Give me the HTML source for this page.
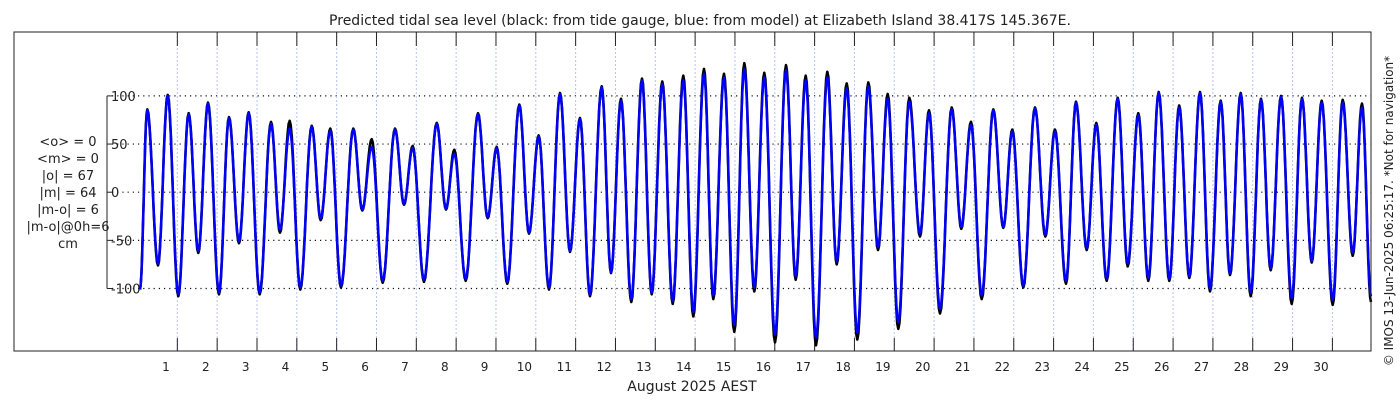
<!DOCTYPE html>
<html><head><meta charset="utf-8"><style>
html,body{margin:0;padding:0;background:#fff;}
svg{display:block;font-family:"DejaVu Sans","Liberation Sans",sans-serif;}
</style></head><body>
<svg id="chart" width="1400" height="400" viewBox="0 0 1400 400" xmlns="http://www.w3.org/2000/svg">
<rect x="0" y="0" width="1400" height="400" fill="#fff"/>
<text x="700" y="25" text-anchor="middle" font-size="14" fill="#222">Predicted tidal sea level (black: from tide gauge, blue: from model) at Elizabeth Island 38.417S 145.367E.</text>
<g id="grid"></g>
<g id="ticks"></g>
<g id="series"></g>
<rect x="14" y="32" width="1357" height="319" fill="none" stroke="#222" stroke-width="1"/>
<g font-size="13" fill="#222" text-anchor="middle">
<text x="68" y="146">&lt;o&gt; = 0</text>
<text x="68" y="163">&lt;m&gt; = 0</text>
<text x="68" y="180">|o| = 67</text>
<text x="68" y="197">|m| = 64</text>
<text x="68" y="214">|m-o| = 6</text>
<text x="68" y="231">|m-o|@0h=6</text>
<text x="68" y="248">cm</text>
</g>
<text x="692" y="391" text-anchor="middle" font-size="14" fill="#222">August 2025 AEST</text>
<text transform="translate(1393,211) rotate(-90)" text-anchor="middle" font-size="12" fill="#222">© IMOS 13-Jun-2025 06:25:17. *Not for navigation*</text>
</svg>
<script>
// Extremum times (days) and levels (cm)
const extTimes = [0.063,0.246,0.515,0.758,1.024,1.285,1.526,1.770,2.046,2.297,2.548,2.792,3.068,3.352,3.578,3.821,4.087,4.374,4.600,4.841,5.109,5.418,5.644,5.880,6.156,6.465,6.691,6.909,7.193,7.512,7.745,7.954,8.240,8.549,8.792,9.018,9.284,9.586,9.829,10.073,10.331,10.608,10.859,11.110,11.361,11.654,11.888,12.139,12.398,12.666,12.910,13.176,13.437,13.703,13.954,14.223,14.456,14.725,14.983,15.235,15.486,15.737,16.005,16.281,16.525,16.776,17.035,17.319,17.555,17.806,18.072,18.348,18.592,18.835,19.101,19.377,19.646,19.872,20.148,20.442,20.683,20.926,21.195,21.486,21.737,21.963,22.239,22.533,22.792,23.035,23.311,23.562,23.831,24.072,24.333,24.610,24.861,25.127,25.378,25.639,25.905,26.154,26.407,26.676,26.927,27.196,27.429,27.698,27.949,28.208,28.451,28.710,28.978,29.237,29.481,29.732,30.008,30.259,30.510,30.743,30.969];
const modelLevels = [-101,85,-74,100,-106,81,-61,92,-104,77,-51,82,-104,71,-39,66,-99,68,-27,64,-97,65,-18,47,-92,65,-12,46,-91,71,-17,40,-90,81,-26,46,-93,90,-42,58,-99,102,-61,76,-106,109,-83,95,-111,116,-104,112,-113,116,-124,123,-107,119,-138,128,-99,119,-148,127,-87,116,-151,119,-72,108,-146,110,-57,97,-135,94,-43,82,-121,86,-36,70,-107,85,-36,63,-97,87,-44,63,-92,93,-58,70,-90,97,-74,80,-89,103,-90,88,-87,103,-100,94,-84,102,-104,96,-79,99,-110,97,-71,93,-112,93,-63,88,-108];
const gaugeLevels = [-101,86,-76,101,-108,82,-63,93,-106,78,-53,83,-106,73,-42,74,-101,69,-29,66,-99,66,-19,55,-94,66,-13,48,-93,72,-18,44,-92,82,-27,47,-95,91,-43,59,-101,103,-62,77,-108,110,-84,97,-114,118,-106,115,-116,121,-129,128,-111,123,-145,134,-103,124,-156,132,-91,121,-159,125,-75,113,-153,114,-60,102,-142,98,-46,85,-126,88,-38,73,-111,86,-37,65,-99,88,-46,65,-95,94,-60,72,-92,98,-77,82,-92,104,-92,90,-89,104,-103,95,-86,103,-108,97,-81,100,-116,98,-73,95,-117,96,-66,92,-114];
const yTicks = [100,50,0,-50,-100];
const yTickLabels = ["100","50","0","-50","-100"];
const dayTicks = [1,2,3,4,5,6,7,8,9,10,11,12,13,14,15,16,17,18,19,20,21,22,23,24,25,26,27,28,29,30];

const NS='http://www.w3.org/2000/svg';
const xS = t => 137.5 + t*39.83;
const yS = v => 192.2 - v*0.963;
function mk(tag, attrs, parent){const e=document.createElementNS(NS,tag);for(const k in attrs)e.setAttribute(k,attrs[k]);parent.appendChild(e);return e;}
const grid=document.getElementById('grid'), ticks=document.getElementById('ticks'), series=document.getElementById('series');

yTicks.forEach((v,i)=>{
  const l=mk('line',{x1:112,x2:1371,y1:yS(v),y2:yS(v),stroke:'#111','stroke-width':1.2,'stroke-dasharray':'1.2,4'},grid);
  
  
  const tk=mk('line',{x1:107,x2:112,y1:yS(v),y2:yS(v),stroke:'#222'},ticks);
  
  
  const tx=mk('text',{x:111,y:yS(v)+5,'font-size':13,fill:'#222'},ticks);
  tx.textContent=yTickLabels[i];
  
  
});
const sp=mk('line',{x1:107,x2:107,y1:yS(yTicks[0]),y2:yS(yTicks[yTicks.length-1]),stroke:'#222'},ticks);



dayTicks.forEach(d=>{
  const x=xS(d);
  const g=mk('line',{x1:x,x2:x,y1:32,y2:351,stroke:'#b8c4ee','stroke-width':1,'stroke-dasharray':'2,2'},grid);
  
  
  const t1=mk('line',{x1:x,x2:x,y1:32,y2:46,stroke:'#222'},ticks);
  
  
  const t2=mk('line',{x1:x,x2:x,y1:338,y2:351,stroke:'#222'},ticks);
  
  
  const tx=mk('text',{x:xS(d-0.285),y:371,'font-size':12,fill:'#222','text-anchor':'middle'},ticks);
  tx.textContent=String(d);
  
  
});

function curve(levels){
  let pts=[];
  for(let i=0;i<extTimes.length-1;i++){
    const t0=extTimes[i],t1=extTimes[i+1],v0=levels[i],v1=levels[i+1];
    const n=10;
    for(let k=0;k<n;k++){
      const f=k/n, w=(1-Math.cos(Math.PI*f))/2;
      pts.push(xS(t0+(t1-t0)*f).toFixed(1)+','+yS(v0+(v1-v0)*w).toFixed(1));
    }
  }
  const j=extTimes.length-1;
  pts.push(xS(extTimes[j]).toFixed(1)+','+yS(levels[j]).toFixed(1));
  return pts.join(' ');
}
const gl=mk('polyline',{points:curve(gaugeLevels),fill:'none',stroke:'#000','stroke-width':2.6,'stroke-linejoin':'round'},series);


const ml=mk('polyline',{points:curve(modelLevels),fill:'none',stroke:'#0000ff','stroke-width':2.4,'stroke-linejoin':'round'},series);


</script>
</body></html>
